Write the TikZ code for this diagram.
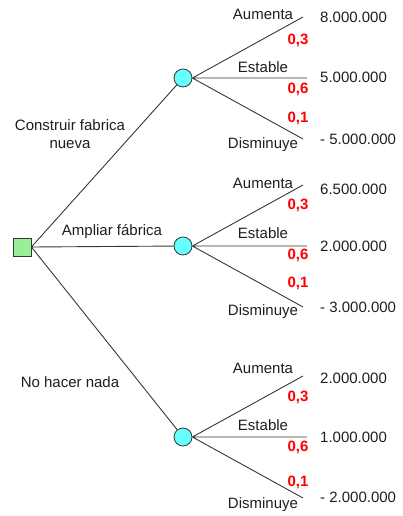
\documentclass[tikz,border=0pt]{standalone}
\usepackage{fontspec}
\setmainfont{Liberation Sans}
\usepackage{tikz}
\usetikzlibrary{positioning}
\definecolor{chancefill}{RGB}{102,255,255}
\definecolor{decfill}{RGB}{153,238,153}
\definecolor{linegray}{RGB}{55,55,55}
\definecolor{textgray}{RGB}{30,30,30}

\begin{document}
\begin{tikzpicture}[x=1pt,y=-1pt,
  font=\fontsize{15}{18}\selectfont,text=textgray,
  branch/.style={draw=linegray,line width=0.9pt},
  chance/.style={circle,draw=linegray,fill=chancefill,line width=0.8pt,minimum size=18pt,inner sep=0pt},
  decision/.style={rectangle,draw=linegray,fill=decfill,line width=0.8pt,minimum size=18pt,inner sep=0pt},
  prob/.style={text=red,font=\fontsize{15}{18}\selectfont\bfseries,inner sep=0pt},
  value/.style={anchor=west,inner sep=0pt}]
\useasboundingbox (0,0) rectangle (403,516);
% decision and chance nodes
\node[decision] (dec) at (22,247) {};
\node[chance] (c1) at (183,78) {};
\node[chance] (c2) at (183,246) {};
\node[chance] (c3) at (183,437) {};
\draw[branch] (dec.east)--(c1) (dec.east)--(c2) (dec.east)--(c3);
\node[align=center] (l1) at (70,134) {Construir fabrica\\nueva};
\node (l2) at (112,232) {Ampliar fábrica};
\node (l3) at (70,382) {No hacer nada};
% first chance node
\coordinate (e1a) at (303,17);
\coordinate (e1b) at (307,78);
\coordinate (e1c) at (303,139);
\draw[branch] (c1.east)--(e1a) (c1.east)--(e1b) (c1.east)--(e1c);
\node (a1) at (263,14) {Aumenta};
\node (s1) at (263,67) {Estable};
\node (d1) at (263,145) {Disminuye};
\node[prob] (p1a) at (298,40) {0,3};
\node[prob] (p1b) at (298,89) {0,6};
\node[prob] (p1c) at (298,118) {0,1};
\node[value] (v1a) at (320,17) {8.000.000};
\node[value] (v1b) at (320,77) {5.000.000};
\node[value] (v1c) at (320,139) {- 5.000.000};
% second chance node
\coordinate (e2a) at (303,185);
\coordinate (e2b) at (307,246);
\coordinate (e2c) at (303,307);
\draw[branch] (c2.east)--(e2a) (c2.east)--(e2b) (c2.east)--(e2c);
\node (a2) at (263,183) {Aumenta};
\node (s2) at (263,233) {Estable};
\node (d2) at (263,312) {Disminuye};
\node[prob] (p2a) at (298,205) {0,3};
\node[prob] (p2b) at (298,255) {0,6};
\node[prob] (p2c) at (298,283) {0,1};
\node[value] (v2a) at (320,189) {6.500.000};
\node[value] (v2b) at (320,246) {2.000.000};
\node[value] (v2c) at (320,307) {- 3.000.000};
% third chance node
\coordinate (e3a) at (303,376);
\coordinate (e3b) at (307,437);
\coordinate (e3c) at (303,498);
\draw[branch] (c3.east)--(e3a) (c3.east)--(e3b) (c3.east)--(e3c);
\node (a3) at (263,368) {Aumenta};
\node (s3) at (263,425) {Estable};
\node (d3) at (263,505) {Disminuye};
\node[prob] (p3a) at (298,397) {0,3};
\node[prob] (p3b) at (298,447) {0,6};
\node[prob] (p3c) at (298,482) {0,1};
\node[value] (v3a) at (320,378) {2.000.000};
\node[value] (v3b) at (320,437) {1.000.000};
\node[value] (v3c) at (320,497) {- 2.000.000};
\end{tikzpicture}
\end{document}
